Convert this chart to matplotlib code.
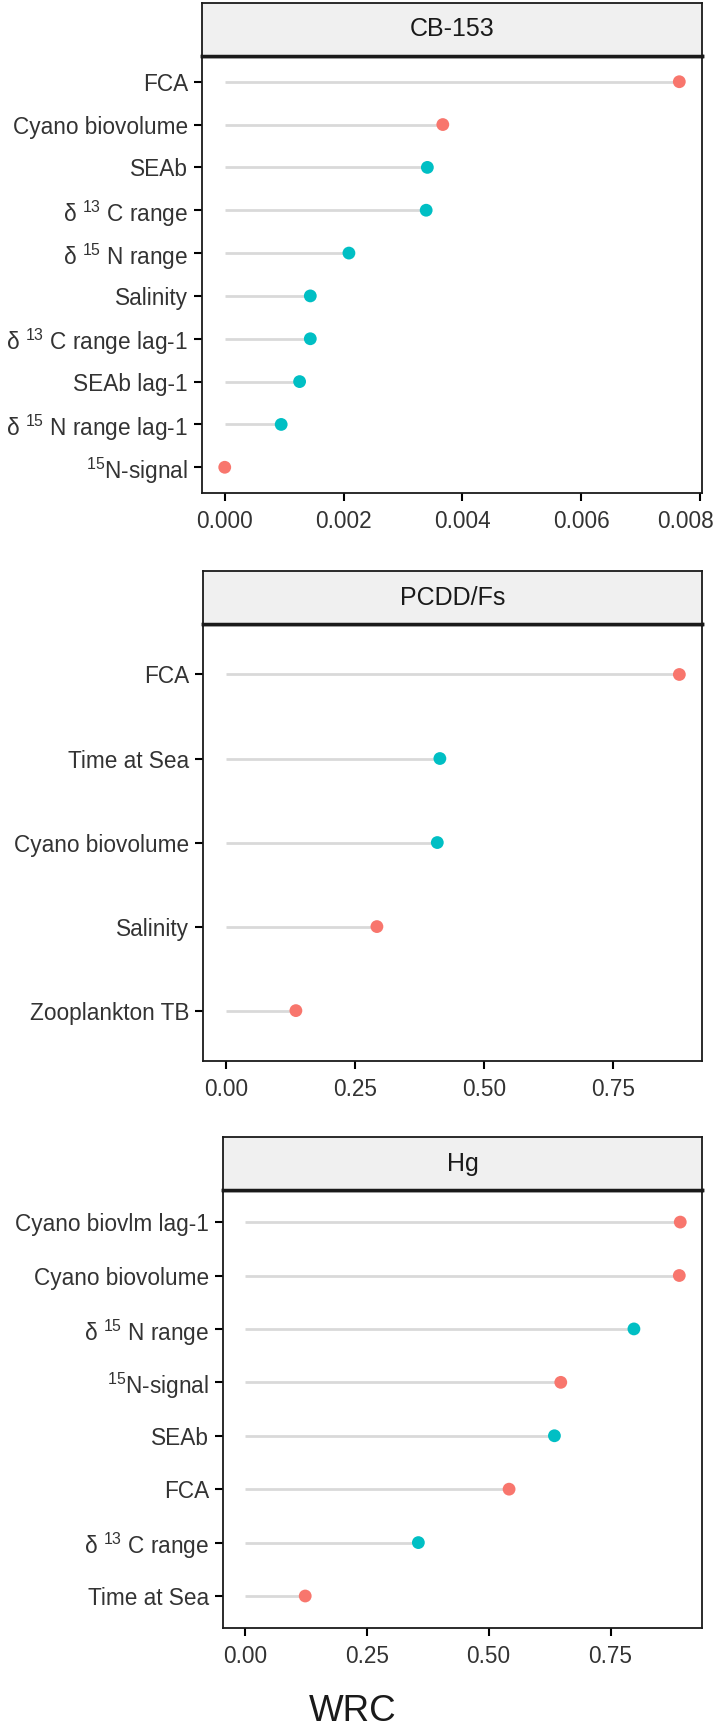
import numpy as np
import matplotlib
matplotlib.use('Agg')
import matplotlib.pyplot as plt
import matplotlib.transforms as mtrans
from matplotlib.ticker import FormatStrFormatter

plt.rcParams['font.family'] = ['Liberation Sans', 'DejaVu Sans']
plt.rcParams['mathtext.default'] = 'regular'

RED = '#F8766D'
TEAL = '#00BFC4'
group_colors = {'neg': RED, 'pos': TEAL}

# CB-153
cb_labels = ['FCA', 'Cyano biovolume', 'SEAb', 'δ $^{13}$ C range', 'δ $^{15}$ N range',
             'Salinity', 'δ $^{13}$ C range lag-1', 'SEAb lag-1', 'δ $^{15}$ N range lag-1',
             '$^{15}$N-signal']
cb_values = [0.00765, 0.00367, 0.00341, 0.00339, 0.00209, 0.00144, 0.00144, 0.00126, 0.00095, 0.0]
cb_groups = ['neg', 'neg', 'pos', 'pos', 'pos', 'pos', 'pos', 'pos', 'pos', 'neg']

# PCDD/Fs
pc_labels = ['FCA', 'Time at Sea', 'Cyano biovolume', 'Salinity', 'Zooplankton TB']
pc_values = [0.879, 0.415, 0.410, 0.293, 0.136]
pc_groups = ['neg', 'pos', 'pos', 'neg', 'neg']

# Hg
hg_labels = ['Cyano biovlm lag-1', 'Cyano biovolume', 'δ $^{15}$ N range', '$^{15}$N-signal',
             'SEAb', 'FCA', 'δ $^{13}$ C range', 'Time at Sea']
hg_values = [0.893, 0.891, 0.798, 0.648, 0.635, 0.542, 0.356, 0.124]
hg_groups = ['neg', 'neg', 'pos', 'neg', 'pos', 'neg', 'pos', 'neg']

panels = [
    ('CB-153', cb_labels, cb_values, cb_groups, [0, 0.002, 0.004, 0.006, 0.008], '%.3f'),
    ('PCDD/Fs', pc_labels, pc_values, pc_groups, [0, 0.25, 0.5, 0.75], '%.2f'),
    ('Hg', hg_labels, hg_values, hg_groups, [0, 0.25, 0.5, 0.75], '%.2f'),
]

# panel boxes in figure fraction: left, right, bottom, top, strip top
boxes = [
    (0.2794, 0.9710, 0.7157, 0.9677, 0.9983),
    (0.2808, 0.9710, 0.3881, 0.6401, 0.6707),
    (0.3084, 0.9710, 0.0611, 0.3137, 0.3443),
]

fig = plt.figure(figsize=(7.23, 17.34), dpi=100, facecolor='w')

for (title, labels, values, groups, ticks, fmt), (l, r, b, t, st) in zip(panels, boxes):
    ax = fig.add_axes([l, b, r - l, t - b])
    n = len(labels)
    y = np.arange(n)[::-1]
    vals = np.array(values)
    cols = [group_colors[g] for g in groups]
    ax.hlines(y, 0, vals, color='#d9d9d9', lw=2, zorder=1)
    ax.scatter(vals, y, c=cols, s=85, zorder=2, edgecolors='none')
    vmax = vals.max()
    ax.set_xlim(-0.05 * vmax, 1.05 * vmax)
    ax.set_ylim(-0.6, n - 1 + 0.6)
    ax.set_yticks(y)
    ax.set_yticklabels(labels)
    ax.set_xticks(ticks)
    ax.xaxis.set_major_formatter(FormatStrFormatter(fmt))
    ax.tick_params(axis='both', labelsize=16.3, labelcolor='#333333', color='black',
                   length=6, width=1.5)
    ax.tick_params(axis='y', pad=4)
    ax.tick_params(axis='x', pad=6)
    for s in ax.spines.values():
        s.set_linewidth(1.3)
        s.set_color('#1a1a1a')
    ax.spines['top'].set_linewidth(2.5)
    ax.spines['top'].set_color('black')

    sax = fig.add_axes([l, t, r - l, st - t])
    sax.set_facecolor('#f0f0f0')
    sax.set_xticks([])
    sax.set_yticks([])
    for s in sax.spines.values():
        s.set_linewidth(1.3)
        s.set_color('#1a1a1a')
    sax.spines['bottom'].set_linewidth(2.5)
    sax.text(0.5, 0.5, title, ha='center', va='center', fontsize=18, color='#1a1a1a',
             transform=sax.transAxes)

    if title == 'CB-153':
        # last tick label sits pulled in from the right edge, as in the original
        fig.canvas.draw()
        lab = ax.get_xticklabels()[-1]
        lab.set_transform(lab.get_transform() +
                          mtrans.ScaledTranslation(-15 / 100, 0, fig.dpi_scale_trans))

fig.text(0.488, 0.0127, 'WRC', ha='center', va='center', fontsize=26.5, color='#1a1a1a')

plt.savefig('out.png', dpi=100)
